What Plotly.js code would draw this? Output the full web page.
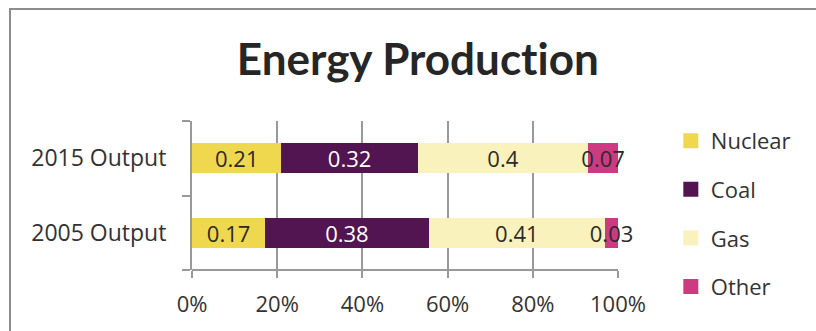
<!DOCTYPE html>
<html>
<head>
<meta charset="utf-8">
<script src="https://cdn.plot.ly/plotly-3.0.1.min.js"></script>
<style>
html,body{margin:0;padding:0;background:#fff;}
#wrap{position:relative;width:816px;height:331px;overflow:hidden;}
#chart{position:absolute;left:0;top:0;width:816px;height:331px;}
#frame{position:absolute;left:9px;top:8px;width:900px;height:400px;border:2px solid #8c8c8c;box-sizing:border-box;pointer-events:none;}
svg text{font-variant-ligatures:none;font-feature-settings:"liga" 0;}
</style>
</head>
<body>
<div id="wrap"><div id="chart"></div><div id="frame"></div></div>
<script>
const categories = ["2005 Output", "2015 Output"];
const seriesNames = ["Nuclear", "Coal", "Gas", "Other"];
const nuclear = [0.17, 0.21];
const coal = [0.38, 0.32];
const gas = [0.41, 0.40];
const other = [0.03, 0.07];
const xTickVals = [0, 0.2, 0.4, 0.6, 0.8, 1.0];
const xTickText = ["0%", "20%", "40%", "60%", "80%", "100%"];

const colors = ["#F0D84E", "#521552", "#FAF2BC", "#CC3A82"];
const textColors = ["#2b2b2b", "#ffffff", "#2b2b2b", "#2b2b2b"];
const values = [nuclear, coal, gas, other];
const FONT = "Open Sans, sans-serif";

const traces = seriesNames.map((name, i) => ({
  type: "bar",
  orientation: "h",
  name: name,
  legendgroup: name,
  showlegend: false,
  y: categories,
  x: values[i],
  text: values[i].map(v => String(v)),
  textposition: "inside",
  insidetextanchor: "middle",
  textangle: 0,
  constraintext: "none",
  cliponaxis: false,
  textfont: {family: FONT, size: 22, color: textColors[i]},
  insidetextfont: {family: FONT, size: 22, color: textColors[i]},
  marker: {color: colors[i], line: {width: 0}},
  hoverinfo: "none"
}));

// legend entries with larger square swatches
seriesNames.forEach((name, i) => {
  traces.push({
    type: "scatter",
    mode: "markers",
    name: name,
    legendgroup: name,
    x: [null],
    y: [null],
    marker: {symbol: "square", size: 15, color: colors[i]},
    showlegend: true,
    hoverinfo: "none"
  });
});

const layout = {
  width: 816,
  height: 331,
  margin: {l: 192, r: 198, t: 121, b: 61},
  paper_bgcolor: "rgba(0,0,0,0)",
  plot_bgcolor: "rgba(0,0,0,0)",
  barmode: "stack",
  barnorm: "fraction",
  bargap: 0.6,
  showlegend: true,
  title: {
    text: "<b>Energy Production</b>",
    font: {family: "Lato, sans-serif", size: 44, color: "#262626"},
    x: 0.512, xanchor: "center",
    y: 0.82, yanchor: "middle"
  },
  xaxis: {
    range: [0, 1],
    tickvals: xTickVals,
    ticktext: xTickText,
    showgrid: true,
    gridcolor: "#999999",
    gridwidth: 2,
    showline: false,
    zeroline: false,
    ticks: "outside",
    ticklen: 7,
    tickwidth: 2,
    tickcolor: "#999999",
    ticklabelstandoff: 8,
    tickfont: {family: FONT, size: 22, color: "#333333"},
    fixedrange: true
  },
  yaxis: {
    type: "category",
    categoryarray: categories,
    range: [-0.5, 1.5],
    showline: true,
    linecolor: "#999999",
    linewidth: 2,
    showgrid: false,
    zeroline: false,
    ticks: "outside",
    tickson: "boundaries",
    ticklen: 8,
    tickwidth: 2,
    tickcolor: "#999999",
    ticklabelstandoff: 19,
    tickfont: {family: FONT, size: 23, color: "#333333"},
    fixedrange: true
  },
  legend: {
    x: 1.124, xanchor: "left",
    y: 1.007, yanchor: "top",
    traceorder: "grouped",
    tracegroupgap: 17,
    maxheight: 400,
    font: {family: FONT, size: 22, color: "#333333"},
    itemwidth: 30,
    bgcolor: "rgba(0,0,0,0)"
  },
  shapes: [{
    type: "line", xref: "x", yref: "paper",
    x0: 0, x1: 1, y0: 0, y1: 0,
    line: {color: "#999999", width: 2}
  }]
};

Plotly.newPlot("chart", traces, layout, {displayModeBar: false, staticPlot: true});
</script>
</body>
</html>
